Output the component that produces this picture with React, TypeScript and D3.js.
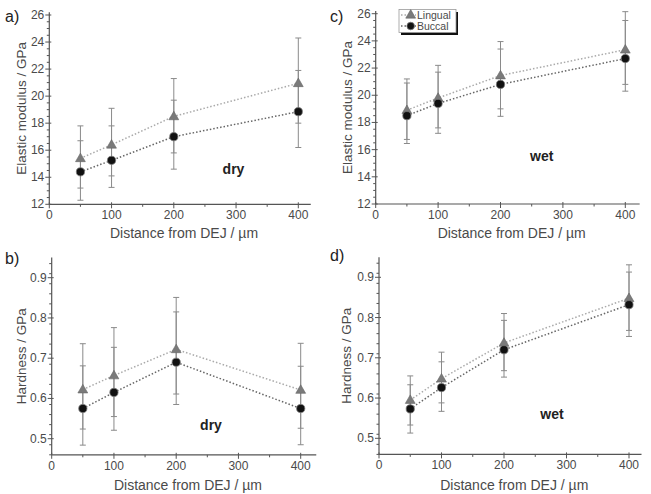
import React from "react";
import * as d3 from "d3";

// ---------- data ----------
const distances = [50, 100, 200, 400];
const xTicks = [0, 100, 200, 300, 400];
const modulusTicks = [12, 14, 16, 18, 20, 22, 24, 26];
const hardnessTicks = [0.5, 0.6, 0.7, 0.8, 0.9];
const seriesNames = ["Lingual", "Buccal"];

// a) dry elastic modulus
const dryModLingual = [15.4, 16.4, 18.5, 20.95];
const dryModLingualLo = [13.2, 14.1, 15.8, 18.0];
const dryModLingualHi = [17.8, 19.1, 21.3, 24.3];
const dryModBuccal = [14.4, 15.25, 17.0, 18.85];
const dryModBuccalLo = [12.3, 13.25, 14.6, 16.2];
const dryModBuccalHi = [16.7, 17.8, 19.7, 21.9];

// c) wet elastic modulus
const wetModLingual = [18.9, 19.8, 21.45, 23.35];
const wetModLingualLo = [16.75, 17.6, 19.0, 20.8];
const wetModLingualHi = [21.2, 22.2, 23.95, 26.15];
const wetModBuccal = [18.5, 19.4, 20.8, 22.7];
const wetModBuccalLo = [16.45, 17.2, 18.45, 20.3];
const wetModBuccalHi = [20.9, 21.7, 23.4, 25.5];

// b) dry hardness
const dryHardLingual = [0.622, 0.657, 0.722, 0.621];
const dryHardLingualLo = [0.524, 0.555, 0.611, 0.526];
const dryHardLingualHi = [0.736, 0.776, 0.851, 0.737];
const dryHardBuccal = [0.575, 0.615, 0.69, 0.575];
const dryHardBuccalLo = [0.484, 0.521, 0.585, 0.485];
const dryHardBuccalHi = [0.681, 0.727, 0.815, 0.68];

// d) wet hardness
const wetHardLingual = [0.595, 0.648, 0.737, 0.848];
const wetHardLingualLo = [0.533, 0.588, 0.668, 0.768];
const wetHardLingualHi = [0.655, 0.714, 0.81, 0.931];
const wetHardBuccal = [0.573, 0.626, 0.72, 0.832];
const wetHardBuccalLo = [0.513, 0.567, 0.652, 0.753];
const wetHardBuccalHi = [0.633, 0.69, 0.793, 0.913];

type Series = { v: number[]; lo: number[]; hi: number[] };

const FONT = "'Liberation Sans', Arial, sans-serif";
const AXIS = "#555";
const TEXT = "#4a4a4a";

type PanelProps = {
  label: string;
  labelPos: [number, number];
  x0: number;
  x400: number;
  xMax: number;
  yDomain: [number, number];
  yRangeRef: [number, number, number, number];
  yTicks: number[];
  yMinorStep: number;
  yFormat: (v: number) => string;
  yTitle: string;
  yTitleX: number;
  xTitleY: number;
  lingual: Series;
  buccal: Series;
  tag: string;
  tagPos: [number, number];
  legend?: boolean;
};

function Panel(p: PanelProps) {
  const x = d3.scaleLinear().domain([0, 400]).range([p.x0, p.x400]);
  const [v1, px1, v2, px2] = p.yRangeRef;
  const y = d3.scaleLinear().domain([v1, v2]).range([px1, px2]);
  const yBottom = y(p.yDomain[0]);
  const yTop = y(p.yDomain[1]);
  const xRight = x(p.xMax);
  const minorX = d3.range(50, p.xMax, 100);
  const minorY = d3
    .range(p.yDomain[0], p.yDomain[1] + 1e-9, p.yMinorStep)
    .filter((v) => !p.yTicks.some((t) => Math.abs(t - v) < 1e-6));
  const tri = d3.symbol(d3.symbolTriangle, 42)()!;
  const lineGen = d3
    .line<number>()
    .x((_, i) => x(distances[i]))
    .y((d) => y(d));

  const drawErrors = (s: Series) => (
    <g>
      {distances.map((d, i) => (
        <g key={i} stroke="#8a8a8a" strokeWidth={1}>
          <line x1={x(d)} x2={x(d)} y1={y(s.lo[i])} y2={y(s.hi[i])} />
          <line x1={x(d) - 3} x2={x(d) + 3} y1={y(s.lo[i])} y2={y(s.lo[i])} />
          <line x1={x(d) - 3} x2={x(d) + 3} y1={y(s.hi[i])} y2={y(s.hi[i])} />
        </g>
      ))}
    </g>
  );

  const drawMarkers = (s: Series, kind: "tri" | "circ") =>
    distances.map((d, i) =>
      kind === "tri" ? (
        <path
          key={i}
          d={tri}
          transform={`translate(${x(d)},${y(s.v[i]) + 0.5})`}
          fill="#7a7a7a"
          stroke="#666"
          strokeWidth={0.6}
        />
      ) : (
        <circle key={i} cx={x(d)} cy={y(s.v[i])} r={4.1} fill="#111" stroke="#777" strokeWidth={0.8} />
      )
    );

  return (
    <g fontFamily={FONT}>
      <text x={p.labelPos[0]} y={p.labelPos[1]} fontSize={16} fill="#222">
        {p.label}
      </text>
      <line x1={p.x0} x2={p.x0} y1={yBottom} y2={yTop} stroke={AXIS} strokeWidth={1.2} />
      <line x1={p.x0} x2={xRight} y1={yBottom} y2={yBottom} stroke={AXIS} strokeWidth={1.2} />
      {xTicks.map((t) => (
        <g key={t}>
          <line x1={x(t)} x2={x(t)} y1={yBottom - 2} y2={yBottom + 4} stroke={AXIS} />
          <text x={x(t)} y={yBottom + 15} fontSize={12} fill={TEXT} textAnchor="middle">
            {t}
          </text>
        </g>
      ))}
      {minorX.map((t) => (
        <line key={t} x1={x(t)} x2={x(t)} y1={yBottom} y2={yBottom + 2.5} stroke={AXIS} />
      ))}
      {p.yTicks.map((t) => (
        <g key={t}>
          <line x1={p.x0 - 4} x2={p.x0 + 2} y1={y(t)} y2={y(t)} stroke={AXIS} />
          <text x={p.x0 - 5} y={y(t) + 4} fontSize={12} fill={TEXT} textAnchor="end">
            {p.yFormat(t)}
          </text>
        </g>
      ))}
      {minorY.map((t, i) => (
        <line key={i} x1={p.x0 - 2.5} x2={p.x0} y1={y(t)} y2={y(t)} stroke={AXIS} />
      ))}
      <text
        x={(p.x0 + xRight) / 2 + 4}
        y={p.xTitleY}
        fontSize={14}
        fill={TEXT}
        textAnchor="middle"
      >
        Distance from DEJ / µm
      </text>
      <text
        transform={`translate(${p.yTitleX},${(yBottom + yTop) / 2}) rotate(-90)`}
        fontSize={13.5}
        fill={TEXT}
        textAnchor="middle"
        dominantBaseline="central"
      >
        {p.yTitle}
      </text>
      <path d={lineGen(p.lingual.v)!} fill="none" stroke="#aaa" strokeWidth={1.5} strokeDasharray="1.5,2" />
      <path d={lineGen(p.buccal.v)!} fill="none" stroke="#666" strokeWidth={1.5} strokeDasharray="1.5,2" />
      {drawErrors(p.lingual)}
      {drawErrors(p.buccal)}
      {drawMarkers(p.lingual, "tri")}
      {drawMarkers(p.buccal, "circ")}
      <text
        x={p.tagPos[0]}
        y={p.tagPos[1]}
        fontSize={14}
        fontWeight="bold"
        fill="#222"
        textAnchor="middle"
      >
        {p.tag}
      </text>
      {p.legend && (
        <g>
          <rect x={401} y={12} width={57} height={23} fill="#111" />
          <rect x={399} y={9.5} width={57} height={23} fill="#fff" stroke="#999" strokeWidth={0.8} />
          <line x1={401} x2={416} y1={15} y2={15} stroke="#aaa" strokeWidth={1.3} strokeDasharray="1.5,2" />
          <path d={tri} transform="translate(410.7,15.3)" fill="#7a7a7a" stroke="#666" strokeWidth={0.6} />
          <text x={417} y={18.8} fontSize={10.5} fill={TEXT}>
            {seriesNames[0]}
          </text>
          <line x1={401} x2={416} y1={26} y2={26} stroke="#666" strokeWidth={1.3} strokeDasharray="1.5,2" />
          <circle cx={410.7} cy={26} r={3.8} fill="#111" stroke="#777" strokeWidth={0.8} />
          <text x={417} y={29.8} fontSize={10.5} fill={TEXT}>
            {seriesNames[1]}
          </text>
        </g>
      )}
    </g>
  );
}

const fmtMod = (v: number) => d3.format("d")(v);
const fmtHard = (v: number) => d3.format(".1f")(v);

export default function App() {
  return (
    <svg
      width={651}
      height={494}
      style={{ position: "absolute", left: 0, top: 0, background: "#fff" }}
    >
      <rect width={651} height={494} fill="#fff" />
      <Panel
        label="a)"
        labelPos={[5, 21.5]}
        x0={49.3}
        x400={298.3}
        xMax={420}
        yDomain={[12, 26.2]}
        yRangeRef={[12, 204.3, 26, 15]}
        yTicks={modulusTicks}
        yMinorStep={0.5}
        yFormat={fmtMod}
        yTitle="Elastic modulus / GPa"
        yTitleX={21}
        xTitleY={238}
        lingual={{ v: dryModLingual, lo: dryModLingualLo, hi: dryModLingualHi }}
        buccal={{ v: dryModBuccal, lo: dryModBuccalLo, hi: dryModBuccalHi }}
        tag="dry"
        tagPos={[233.5, 174]}
      />
      <Panel
        label="c)"
        labelPos={[330, 21.5]}
        x0={375.7}
        x400={625.3}
        xMax={423}
        yDomain={[12, 26.2]}
        yRangeRef={[12, 204, 26, 13.7]}
        yTicks={modulusTicks}
        yMinorStep={0.5}
        yFormat={fmtMod}
        yTitle="Elastic modulus / GPa"
        yTitleX={347}
        xTitleY={238}
        lingual={{ v: wetModLingual, lo: wetModLingualLo, hi: wetModLingualHi }}
        buccal={{ v: wetModBuccal, lo: wetModBuccalLo, hi: wetModBuccalHi }}
        tag="wet"
        tagPos={[541.7, 161]}
        legend
      />
      <Panel
        label="b)"
        labelPos={[5, 264]}
        x0={51.7}
        x400={300.7}
        xMax={425}
        yDomain={[0.46, 0.95]}
        yRangeRef={[0.5, 438.7, 0.9, 277.7]}
        yTicks={hardnessTicks}
        yMinorStep={0.025}
        yFormat={fmtHard}
        yTitle="Hardness / GPa"
        yTitleX={21}
        xTitleY={490}
        lingual={{ v: dryHardLingual, lo: dryHardLingualLo, hi: dryHardLingualHi }}
        buccal={{ v: dryHardBuccal, lo: dryHardBuccalLo, hi: dryHardBuccalHi }}
        tag="dry"
        tagPos={[211, 430]}
      />
      <Panel
        label="d)"
        labelPos={[330, 261]}
        x0={379}
        x400={629}
        xMax={420}
        yDomain={[0.46, 0.95]}
        yRangeRef={[0.5, 438.3, 0.9, 277.3]}
        yTicks={hardnessTicks}
        yMinorStep={0.025}
        yFormat={fmtHard}
        yTitle="Hardness / GPa"
        yTitleX={346}
        xTitleY={490}
        lingual={{ v: wetHardLingual, lo: wetHardLingualLo, hi: wetHardLingualHi }}
        buccal={{ v: wetHardBuccal, lo: wetHardBuccalLo, hi: wetHardBuccalHi }}
        tag="wet"
        tagPos={[552, 418.5]}
      />
    </svg>
  );
}
